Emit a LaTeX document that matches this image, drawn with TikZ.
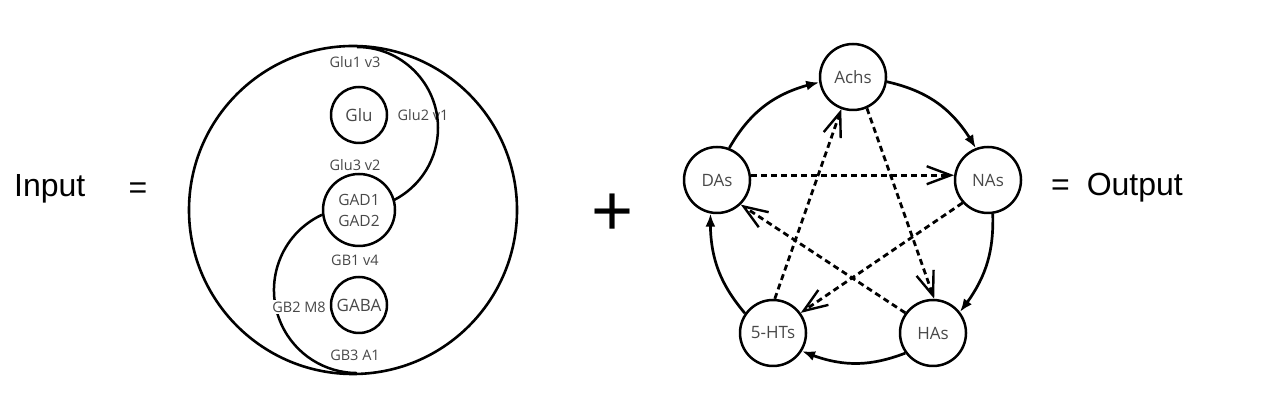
\documentclass[tikz,border=0pt]{standalone}
\usepackage{fontspec}
\setmainfont{Liberation Sans}
\newfontfamily\labfont{Open Sans}
\usetikzlibrary{arrows.meta,bending}
\definecolor{txtgray}{RGB}{72,72,72}
\begin{document}
\begin{tikzpicture}[x=1pt,y=1pt,
  circnode/.style={circle,draw=black,line width=2.5pt,inner sep=0pt,
    font=\labfont\fontsize{17}{19}\selectfont,text=txtgray},
  smalllab/.style={fill=white,inner sep=1.5pt,
    font=\labfont\fontsize{14.5}{16}\selectfont,text=txtgray},
  bigtext/.style={font=\fontsize{32}{38}\selectfont,inner sep=0pt,anchor=base west},
  solidarrow/.style={line width=2.7pt,-{Latex[length=13pt,width=10pt]}},
  dasharrow/.style={line width=2.8pt,dash pattern=on 6pt off 4pt,
    -{Straight Barb[length=24pt,width=18pt,line width=2.4pt]}},
  inarc/.style={line width=2.5pt}
]
\useasboundingbox (0,0) rectangle (1268,409);

% ---- left: yin-yang ----
\node[circle,draw=black,line width=2.6pt,minimum size=328pt,inner sep=0pt] (yy) at (353,199) {};
\node[circnode,minimum size=56pt] (glu) at (359,294) {Glu};
\node[circnode,minimum size=72pt,align=center,font=\labfont\fontsize{15.5}{21}\selectfont] (gad) at (359,199) {GAD1\\GAD2};
\node[circnode,minimum size=56pt] (gaba) at (359,104) {GABA};

\node[smalllab] (l2) at (423,294) {Glu2 v1};
\draw[inarc] (357,362) arc[start angle=90,end angle=-63,radius=81];
\draw[inarc] (321.9,194.2) arc[start angle=115,end angle=270,radius=83];

\node[smalllab] (l1) at (355,347) {Glu1 v3};
\node[smalllab] (l3) at (355,244) {Glu3 v2};
\node[smalllab] (l4) at (355,149) {GB1 v4};
\node[smalllab] (l5) at (299,102) {GB2 M8};
\node[smalllab] (l6) at (355,54) {GB3 A1};

% ---- right: pentagon ----
\node[circnode,minimum size=66pt] (achs) at (853,332) {Achs};
\node[circnode,minimum size=66pt] (nas) at (988,229) {NAs};
\node[circnode,minimum size=66pt] (has) at (933,76) {HAs};
\node[circnode,minimum size=66pt] (hts) at (773,76) {5-HTs};
\node[circnode,minimum size=66pt] (das) at (717,229) {DAs};

\draw[solidarrow] (das.69) to[bend left=24] (achs.189);
\draw[solidarrow] (achs.-8) to[bend left=24] (nas.111);
\draw[solidarrow] (nas.-82) to[bend left=20] (has.38);
\draw[solidarrow] (has.-144) to[bend left=22] (hts.-32);
\draw[solidarrow] (hts.145) to[bend left=21] (das.-101);

\draw[dasharrow] (das.8) -- (nas.172);
\draw[dasharrow] (achs.-66) -- (has.88);
\draw[dasharrow] (nas.-138) -- (hts.36);
\draw[dasharrow] (has.144) -- (das.-46);
\draw[dasharrow] (hts.87) -- (achs.-110);

% ---- texts ----
\node[bigtext] (inp) at (14,212) {Input};
\node[font=\fontsize{32}{38}\selectfont,inner sep=0pt,anchor=base] (eq1) at (138,210) {=};
\node[font=\fontsize{72}{80}\selectfont,inner sep=0pt,anchor=base] (plus) at (613,173) {+};
\node[bigtext] (out) at (1051,213) {=\hspace{8pt} Output};
\end{tikzpicture}
\end{document}
